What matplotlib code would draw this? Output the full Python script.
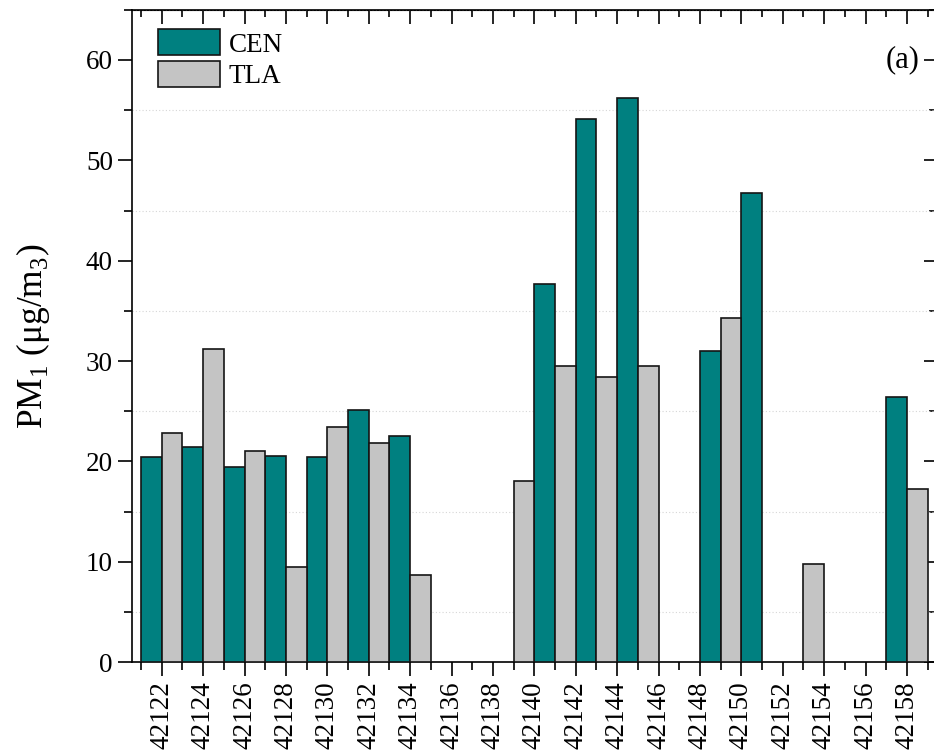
# PM1 daily bars, CEN vs TLA
import matplotlib
matplotlib.use('Agg')
import matplotlib.pyplot as plt
from matplotlib.ticker import MultipleLocator

plt.rcParams['font.family'] = ['Liberation Serif', 'DejaVu Serif']
plt.rcParams['mathtext.fontset'] = 'custom'
plt.rcParams['mathtext.rm'] = 'Liberation Serif'

# day (Excel serial) where each bar starts, and PM1 value
cen_days = [42121, 42123, 42125, 42127, 42129, 42131, 42133, 42140, 42142, 42144, 42148, 42150, 42157]
cen_vals = [20.4, 21.4, 19.4, 20.5, 20.4, 25.1, 22.5, 37.7, 54.1, 56.2, 31.0, 46.7, 26.4]
tla_days = [42122, 42124, 42126, 42128, 42130, 42132, 42134, 42139, 42141, 42143, 42145, 42149, 42153, 42158]
tla_vals = [22.8, 31.2, 21.0, 9.5, 23.4, 21.8, 8.7, 18.0, 29.5, 28.4, 29.5, 34.3, 9.8, 17.3]
tick_days = list(range(42122, 42159, 2))

fig = plt.figure(figsize=(9.34, 7.55), dpi=100)
ax = fig.add_axes([0.141, 0.123, 0.86, 0.864])

ax.bar(cen_days, cen_vals, width=1, align='edge', color='#008080',
       edgecolor='#151515', linewidth=1.2, label='CEN', zorder=3)
ax.bar(tla_days, tla_vals, width=1, align='edge', color='#c4c4c4',
       edgecolor='#151515', linewidth=1.2, label='TLA', zorder=3)

ax.set_xlim(42120.55, 42159.35)
ax.set_ylim(0, 65)
ax.set_xticks(tick_days)
ax.set_xticklabels([str(d) for d in tick_days], rotation=90)
ax.xaxis.set_minor_locator(MultipleLocator(1))
ax.yaxis.set_major_locator(MultipleLocator(10))
ax.yaxis.set_minor_locator(MultipleLocator(5))

ax.grid(which='minor', axis='y', linestyle=(0, (1, 2)), color='#d6d6d6', linewidth=0.8)
ax.set_axisbelow(True)

for s in ax.spines.values():
    s.set_linewidth(1.2)

ax.tick_params(axis='x', which='both', direction='out', top=False, labelsize=19.5, width=1.2)
ax.tick_params(axis='y', which='both', direction='out', right=False, labelsize=19.5, width=1.2)
ax.tick_params(which='major', length=10)
ax.tick_params(which='minor', length=5.5)
# mirrored ticks pointing in on top and right
sec_x = ax.secondary_xaxis('top')
sec_x.set_xticks(tick_days)
sec_x.xaxis.set_minor_locator(MultipleLocator(1))
sec_x.tick_params(which='both', direction='in', labeltop=False, width=1.2)
sec_x.tick_params(which='major', length=10)
sec_x.tick_params(which='minor', length=5)
sec_y = ax.secondary_yaxis('right')
sec_y.yaxis.set_major_locator(MultipleLocator(10))
sec_y.yaxis.set_minor_locator(MultipleLocator(5))
sec_y.tick_params(which='both', direction='in', labelright=False, width=1.2)
sec_y.tick_params(which='major', length=8)
sec_y.tick_params(which='minor', length=4)

ax.set_ylabel(r'PM$_\mathrm{1}$ (μg/m$_\mathrm{3}$)', fontsize=25.5, labelpad=24)

ax.legend(loc='upper left', bbox_to_anchor=(0.033, 0.97), frameon=False,
          fontsize=19.5, handlelength=2.3, handleheight=1.1, handletextpad=0.3,
          labelspacing=0.12, borderpad=0, borderaxespad=0)

ax.text(0.981, 60, '(a)', transform=ax.get_yaxis_transform(), ha='right',
        va='center', fontsize=22)

fig.savefig('out.png', dpi=100)
